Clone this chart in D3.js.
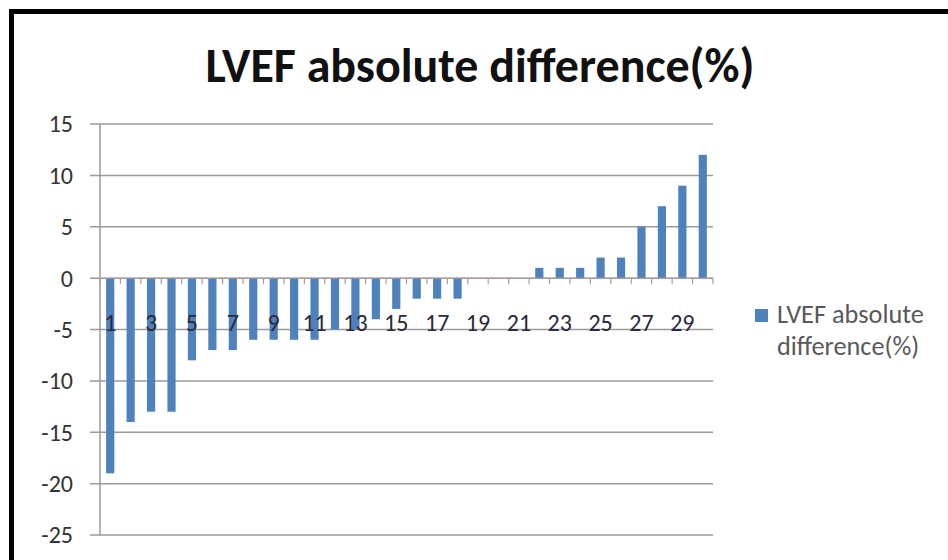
<!DOCTYPE html>
<html>
<head>
<meta charset="utf-8">
<script src="https://cdn.jsdelivr.net/npm/d3@7/dist/d3.min.js"></script>
<style>
  html, body { margin: 0; padding: 0; background: #fff; }
  svg { display: block; }
</style>
</head>
<body>
<svg id="chart" width="948" height="560"></svg>
<script>
const categories = d3.range(1, 31).map(String);
const values = [-19, -14, -13, -13, -8, -7, -7, -6, -6, -6, -6, -5, -5, -4, -3, -2, -2, -2, 0, 0, 0, 1, 1, 1, 2, 2, 5, 7, 9, 12];
const yTicks = [15, 10, 5, 0, -5, -10, -15, -20, -25];
const titleText = "LVEF absolute difference(%)";
const seriesName = ["LVEF absolute", "difference(%)"];

const W = 948, H = 560;
const svg = d3.select("#chart");
const font = "Carlito, Calibri, 'Open Sans', sans-serif";
const barColor = "#4F81BD";

svg.append("rect").attr("width", W).attr("height", H).attr("fill", "#fff");
// frame
svg.append("rect").attr("x", 11.5).attr("y", 11.5).attr("width", W + 20).attr("height", H + 20)
  .attr("fill", "none").attr("stroke", "#000").attr("stroke-width", 5);

const x = d3.scaleBand().domain(categories).range([100, 713]).paddingInner(0.6).paddingOuter(0.3);
const y = d3.scaleLinear().domain([-25, 15]).range([535, 124]);

// gridlines
svg.append("g").selectAll("line").data(yTicks).join("line")
  .attr("x1", 90).attr("x2", 713)
  .attr("y1", d => y(d)).attr("y2", d => y(d))
  .attr("stroke", "#9a9a9a").attr("stroke-width", 1.5);

// y axis line
svg.append("line").attr("x1", 100).attr("x2", 100).attr("y1", y(15)).attr("y2", y(-25))
  .attr("stroke", "#9a9a9a").attr("stroke-width", 1.5);

// y labels
svg.append("g").selectAll("text").data(yTicks).join("text")
  .attr("x", 73).attr("y", d => y(d)).attr("dy", "0.35em")
  .attr("text-anchor", "end").attr("font-family", font).attr("font-size", 24)
  .attr("fill", "#333").text(d => d);

// bars
svg.append("g").selectAll("rect").data(values).join("rect")
  .attr("x", (d, i) => x(categories[i]))
  .attr("width", x.bandwidth())
  .attr("y", d => y(Math.max(0, d)))
  .attr("height", d => Math.abs(y(d) - y(0)))
  .attr("fill", barColor);

// x axis line and ticks
svg.append("line").attr("x1", 100).attr("x2", 713).attr("y1", y(0)).attr("y2", y(0))
  .attr("stroke", "#b0a0a0").attr("stroke-width", 1);
const step = x.step();
const boundaries = d3.range(0, categories.length + 1).map(i => 100 + i * step);
svg.append("g").selectAll("line").data(boundaries).join("line")
  .attr("x1", d => d).attr("x2", d => d)
  .attr("y1", y(0)).attr("y2", y(0) + 6)
  .attr("stroke", "#b39a9a").attr("stroke-width", 1.2);

// x labels (odd categories)
svg.append("g").selectAll("text").data(categories.filter((c, i) => i % 2 === 0)).join("text")
  .attr("x", d => x(d) + x.bandwidth() / 2).attr("y", 331)
  .attr("text-anchor", "middle").attr("font-family", font).attr("font-size", 24)
  .attr("fill", "#2a2a3a").text(d => d);

// title
const title = svg.append("text").attr("x", 480).attr("y", 82)
  .attr("text-anchor", "middle").attr("font-family", font).attr("font-weight", "bold")
  .attr("font-size", 36).attr("fill", "#111").text(titleText);
const tw = title.node().getComputedTextLength();
title.attr("font-size", 36 * 549 / tw);

// legend
svg.append("rect").attr("x", 755).attr("y", 309).attr("width", 13).attr("height", 13).attr("fill", barColor);
const leg = svg.append("g");
seriesName.forEach((s, i) => {
  leg.append("text").attr("x", 777).attr("y", 323 + i * 32)
    .attr("font-family", font).attr("font-size", 20).attr("fill", "#595959").text(s);
});
const l0 = leg.select("text").node().getComputedTextLength();
leg.selectAll("text").attr("font-size", 20 * 147 / l0);
</script>
</body>
</html>
